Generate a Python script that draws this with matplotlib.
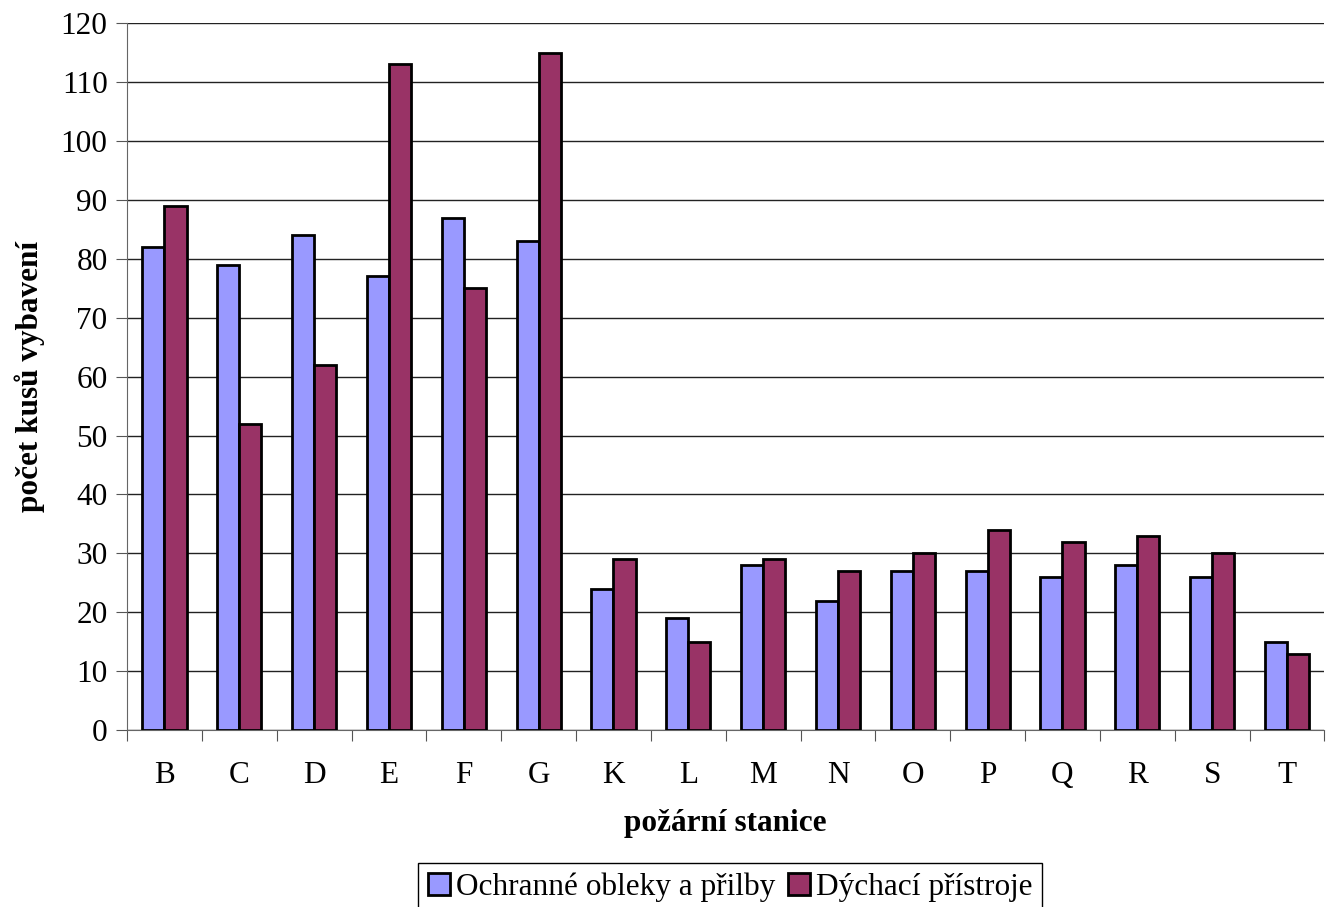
import numpy as np
import matplotlib.pyplot as plt

# Vybavení požárních stanic
stanice = ['B', 'C', 'D', 'E', 'F', 'G', 'K', 'L', 'M', 'N', 'O', 'P', 'Q', 'R', 'S', 'T']
obleky = [82, 79, 84, 77, 87, 83, 24, 19, 28, 22, 27, 27, 26, 28, 26, 15]
dychaci = [89, 52, 62, 113, 75, 115, 29, 15, 29, 27, 30, 34, 32, 33, 30, 13]

plt.rcParams['font.family'] = ['Liberation Serif', 'DejaVu Serif']
plt.rcParams['font.size'] = 22.5

fig = plt.figure(figsize=(13.26, 9.07), dpi=100)
ax = fig.add_axes([0.0958, 0.195, 0.903, 0.7795])

x = np.arange(len(stanice))
w = 0.295
ax.bar(x - w / 2, obleky, w, color='#9999ff', edgecolor='black', linewidth=2,
       label='Ochranné obleky a přilby', zorder=3)
ax.bar(x + w / 2, dychaci, w, color='#993366', edgecolor='black', linewidth=2,
       label='Dýchací přístroje', zorder=3)

ax.set_xlim(-0.5, len(stanice) - 0.5)
ax.set_ylim(0, 120)
ax.set_yticks(range(0, 121, 10))
ax.set_xticks(np.arange(-0.5, len(stanice), 1.0))
ax.set_xticklabels([])
ax.set_xticks(x, minor=True)
ax.set_xticklabels(stanice, minor=True)
ax.tick_params(axis='x', which='minor', length=0, pad=22)
ax.tick_params(axis='x', which='major', length=8, color='#555555')
ax.tick_params(axis='y', length=8, color='#555555', pad=6)

ax.grid(axis='y', color='#222222', linewidth=1.0, zorder=0)
for s in ['top', 'right']:
    ax.spines[s].set_visible(False)
ax.spines['left'].set_color('#666666')
ax.spines['bottom'].set_color('#666666')

ax.set_xlabel('požární stanice', fontweight='bold', labelpad=14)
ax.set_ylabel('počet kusů vybavení', fontweight='bold', labelpad=11)

fig.legend(loc='upper center', bbox_to_anchor=(730 / 1326, 1 - 863 / 907), ncol=2,
           frameon=True, fancybox=False, edgecolor='black', framealpha=1,
           handlelength=0.7, handleheight=0.7, handletextpad=0.2,
           columnspacing=0.4, borderpad=0.3, borderaxespad=0)

fig.savefig('out.png', dpi=100)
